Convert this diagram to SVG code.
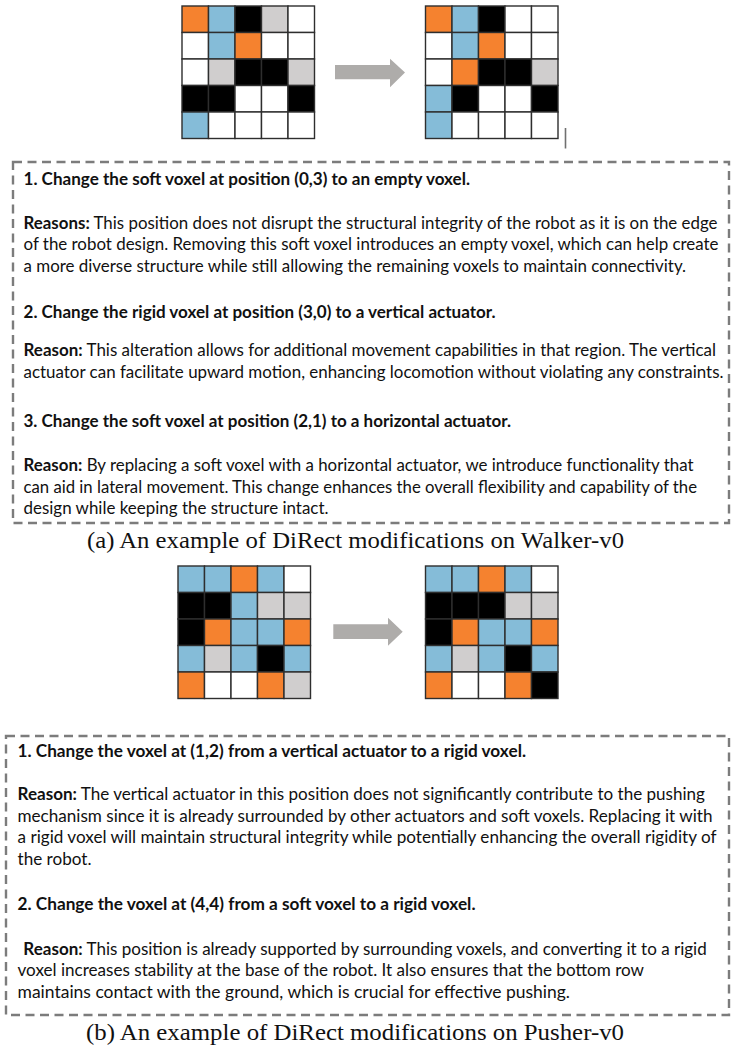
<svg xmlns="http://www.w3.org/2000/svg" width="732" height="1048" viewBox="0 0 732 1048">
  <defs>
    <style>
      .cell { stroke: #2e2e2e; stroke-width: 1.4; }
      .o { fill: #F5822F; }
      .b { fill: #85BCD8; }
      .k { fill: #000000; }
      .g { fill: #D0CECE; }
      .w { fill: #FFFFFF; }
      .frame { fill: none; stroke: #7c7c7c; stroke-width: 2.4; stroke-dasharray: 9 5.5; }
      .arrow { fill: #AEACAA; }
      .body { font-family: "Lato", "Liberation Sans", sans-serif; font-size: 16.5px; fill: #111111; }
      .hd { font-weight: bold; }
      .cap { font-family: "Liberation Serif", "Times New Roman", serif; font-size: 22.5px; fill: #111111; }
    </style>
    <!-- one grid cell, positioned with x/y on each use -->
    <rect id="c" width="26.5" height="26.5" class="cell"/>
  </defs>

  <rect width="732" height="1048" fill="#FFFFFF"/>

  <!-- Walker-v0: design before the edit -->
  <g id="walker-before" transform="translate(182,6)">
    <use href="#c" x="0" y="0" class="o"/><use href="#c" x="26.5" y="0" class="b"/><use href="#c" x="53" y="0" class="k"/><use href="#c" x="79.5" y="0" class="g"/><use href="#c" x="106" y="0" class="w"/>
    <use href="#c" x="0" y="26.5" class="w"/><use href="#c" x="26.5" y="26.5" class="b"/><use href="#c" x="53" y="26.5" class="o"/><use href="#c" x="79.5" y="26.5" class="w"/><use href="#c" x="106" y="26.5" class="w"/>
    <use href="#c" x="0" y="53" class="w"/><use href="#c" x="26.5" y="53" class="g"/><use href="#c" x="53" y="53" class="k"/><use href="#c" x="79.5" y="53" class="k"/><use href="#c" x="106" y="53" class="g"/>
    <use href="#c" x="0" y="79.5" class="k"/><use href="#c" x="26.5" y="79.5" class="k"/><use href="#c" x="53" y="79.5" class="w"/><use href="#c" x="79.5" y="79.5" class="w"/><use href="#c" x="106" y="79.5" class="k"/>
    <use href="#c" x="0" y="106" class="b"/><use href="#c" x="26.5" y="106" class="w"/><use href="#c" x="53" y="106" class="w"/><use href="#c" x="79.5" y="106" class="w"/><use href="#c" x="106" y="106" class="w"/>
  </g>

  <!-- Walker-v0: design after the edit -->
  <g id="walker-after" transform="translate(425.5,6)">
    <use href="#c" x="0" y="0" class="o"/><use href="#c" x="26.5" y="0" class="b"/><use href="#c" x="53" y="0" class="k"/><use href="#c" x="79.5" y="0" class="w"/><use href="#c" x="106" y="0" class="w"/>
    <use href="#c" x="0" y="26.5" class="w"/><use href="#c" x="26.5" y="26.5" class="b"/><use href="#c" x="53" y="26.5" class="o"/><use href="#c" x="79.5" y="26.5" class="w"/><use href="#c" x="106" y="26.5" class="w"/>
    <use href="#c" x="0" y="53" class="w"/><use href="#c" x="26.5" y="53" class="o"/><use href="#c" x="53" y="53" class="k"/><use href="#c" x="79.5" y="53" class="k"/><use href="#c" x="106" y="53" class="g"/>
    <use href="#c" x="0" y="79.5" class="b"/><use href="#c" x="26.5" y="79.5" class="k"/><use href="#c" x="53" y="79.5" class="w"/><use href="#c" x="79.5" y="79.5" class="w"/><use href="#c" x="106" y="79.5" class="k"/>
    <use href="#c" x="0" y="106" class="b"/><use href="#c" x="26.5" y="106" class="w"/><use href="#c" x="53" y="106" class="w"/><use href="#c" x="79.5" y="106" class="w"/><use href="#c" x="106" y="106" class="w"/>
  </g>

  <!-- short vertical tick right of the upper pair -->
  <line id="tick" x1="565.5" y1="128" x2="565.5" y2="148.5" stroke="#707070" stroke-width="1.6"/>

  <!-- Pusher-v0: design before the edit -->
  <g id="pusher-before" transform="translate(178,566)">
    <use href="#c" x="0" y="0" class="b"/><use href="#c" x="26.5" y="0" class="b"/><use href="#c" x="53" y="0" class="o"/><use href="#c" x="79.5" y="0" class="b"/><use href="#c" x="106" y="0" class="w"/>
    <use href="#c" x="0" y="26.5" class="k"/><use href="#c" x="26.5" y="26.5" class="k"/><use href="#c" x="53" y="26.5" class="b"/><use href="#c" x="79.5" y="26.5" class="g"/><use href="#c" x="106" y="26.5" class="g"/>
    <use href="#c" x="0" y="53" class="k"/><use href="#c" x="26.5" y="53" class="o"/><use href="#c" x="53" y="53" class="b"/><use href="#c" x="79.5" y="53" class="b"/><use href="#c" x="106" y="53" class="o"/>
    <use href="#c" x="0" y="79.5" class="b"/><use href="#c" x="26.5" y="79.5" class="g"/><use href="#c" x="53" y="79.5" class="b"/><use href="#c" x="79.5" y="79.5" class="k"/><use href="#c" x="106" y="79.5" class="b"/>
    <use href="#c" x="0" y="106" class="o"/><use href="#c" x="26.5" y="106" class="w"/><use href="#c" x="53" y="106" class="w"/><use href="#c" x="79.5" y="106" class="o"/><use href="#c" x="106" y="106" class="g"/>
  </g>

  <!-- Pusher-v0: design after the edit -->
  <g id="pusher-after" transform="translate(425.5,566)">
    <use href="#c" x="0" y="0" class="b"/><use href="#c" x="26.5" y="0" class="b"/><use href="#c" x="53" y="0" class="o"/><use href="#c" x="79.5" y="0" class="b"/><use href="#c" x="106" y="0" class="w"/>
    <use href="#c" x="0" y="26.5" class="k"/><use href="#c" x="26.5" y="26.5" class="k"/><use href="#c" x="53" y="26.5" class="k"/><use href="#c" x="79.5" y="26.5" class="g"/><use href="#c" x="106" y="26.5" class="g"/>
    <use href="#c" x="0" y="53" class="k"/><use href="#c" x="26.5" y="53" class="o"/><use href="#c" x="53" y="53" class="b"/><use href="#c" x="79.5" y="53" class="b"/><use href="#c" x="106" y="53" class="o"/>
    <use href="#c" x="0" y="79.5" class="b"/><use href="#c" x="26.5" y="79.5" class="g"/><use href="#c" x="53" y="79.5" class="b"/><use href="#c" x="79.5" y="79.5" class="k"/><use href="#c" x="106" y="79.5" class="b"/>
    <use href="#c" x="0" y="106" class="o"/><use href="#c" x="26.5" y="106" class="w"/><use href="#c" x="53" y="106" class="w"/><use href="#c" x="79.5" y="106" class="o"/><use href="#c" x="106" y="106" class="k"/>
  </g>

  <!-- block arrows from each design to its edited version -->
  <g id="connectors">
    <polygon class="arrow" points="335,65 390,65 390,58.7 405,72.5 390,87.3 390,79.3 335,79.3"/>
    <polygon class="arrow" points="333.3,624.3 388,624.3 388,617.7 402.7,631.7 388,645.7 388,639 333.3,639"/>
  </g>

  <!-- Walker-v0 edit list -->
  <g id="walker-edits">
    <rect class="frame" x="13" y="162" width="716" height="361"/>
    <text class="body hd" x="23.5" y="185" textLength="446.5" lengthAdjust="spacingAndGlyphs">1. Change the soft voxel at position (0,3) to an empty voxel.</text>
    <text class="body" x="23.5" y="228.5" textLength="694" lengthAdjust="spacingAndGlyphs"><tspan class="hd">Reasons:</tspan> This position does not disrupt the structural integrity of the robot as it is on the edge</text>
    <text class="body" x="23.5" y="250" textLength="695" lengthAdjust="spacingAndGlyphs">of the robot design. Removing this soft voxel introduces an empty voxel, which can help create</text>
    <text class="body" x="23.5" y="271.5" textLength="662.5" lengthAdjust="spacingAndGlyphs">a more diverse structure while still allowing the remaining voxels to maintain connectivity.</text>
    <text class="body hd" x="23.5" y="317.5" textLength="472" lengthAdjust="spacingAndGlyphs">2. Change the rigid voxel at position (3,0) to a vertical actuator.</text>
    <text class="body" x="23.5" y="356" textLength="692.5" lengthAdjust="spacingAndGlyphs"><tspan class="hd">Reason:</tspan> This alteration allows for additional movement capabilities in that region. The vertical</text>
    <text class="body" x="23.5" y="377.5" textLength="700" lengthAdjust="spacingAndGlyphs">actuator can facilitate upward motion, enhancing locomotion without violating any constraints.</text>
    <text class="body hd" x="23.5" y="427" textLength="487.5" lengthAdjust="spacingAndGlyphs">3. Change the soft voxel at position (2,1) to a horizontal actuator.</text>
    <text class="body" x="23.5" y="471" textLength="670" lengthAdjust="spacingAndGlyphs"><tspan class="hd">Reason:</tspan> By replacing a soft voxel with a horizontal actuator, we introduce functionality that</text>
    <text class="body" x="23.5" y="492.5" textLength="673.5" lengthAdjust="spacingAndGlyphs">can aid in lateral movement. This change enhances the overall flexibility and capability of the</text>
    <text class="body" x="23.5" y="513.5" textLength="305" lengthAdjust="spacingAndGlyphs">design while keeping the structure intact.</text>
  </g>

  <text id="caption-a" class="cap" x="87" y="548" textLength="537" lengthAdjust="spacingAndGlyphs">(a)  An example of DiRect modifications on Walker-v0</text>

  <!-- Pusher-v0 edit list -->
  <g id="pusher-edits">
    <rect class="frame" x="6" y="736" width="723" height="279"/>
    <text class="body hd" x="17.5" y="757" textLength="508.5" lengthAdjust="spacingAndGlyphs">1. Change the voxel at (1,2) from a vertical actuator to a rigid voxel.</text>
    <text class="body" x="17.5" y="800" textLength="687.5" lengthAdjust="spacingAndGlyphs"><tspan class="hd">Reason:</tspan> The vertical actuator in this position does not significantly contribute to the pushing</text>
    <text class="body" x="17.5" y="821.5" textLength="695" lengthAdjust="spacingAndGlyphs">mechanism since it is already surrounded by other actuators and soft voxels. Replacing it with</text>
    <text class="body" x="17.5" y="843" textLength="699" lengthAdjust="spacingAndGlyphs">a rigid voxel will maintain structural integrity while potentially enhancing the overall rigidity of</text>
    <text class="body" x="17.5" y="864.5" textLength="74" lengthAdjust="spacingAndGlyphs">the robot.</text>
    <text class="body hd" x="17.5" y="910" textLength="458" lengthAdjust="spacingAndGlyphs">2. Change the voxel at (4,4) from a soft voxel to a rigid voxel.</text>
    <text class="body" x="23.3" y="954.5" textLength="683.4" lengthAdjust="spacingAndGlyphs"><tspan class="hd">Reason:</tspan> This position is already supported by surrounding voxels, and converting it to a rigid</text>
    <text class="body" x="17.5" y="976" textLength="626.5" lengthAdjust="spacingAndGlyphs">voxel increases stability at the base of the robot. It also ensures that the bottom row</text>
    <text class="body" x="17.5" y="997.5" textLength="552.5" lengthAdjust="spacingAndGlyphs">maintains contact with the ground, which is crucial for effective pushing.</text>
  </g>

  <text id="caption-b" class="cap" x="86" y="1040" textLength="538" lengthAdjust="spacingAndGlyphs">(b)  An example of DiRect modifications on Pusher-v0</text>
</svg>
